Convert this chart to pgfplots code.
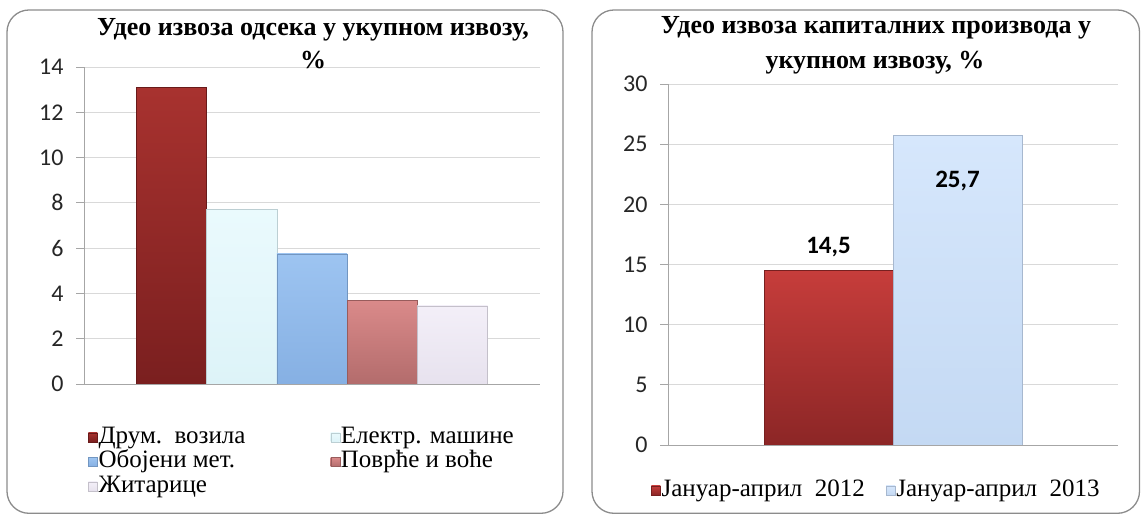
\documentclass[border=0pt]{standalone}
\usepackage{fontspec}
\setmainfont{Liberation Serif}
\newfontfamily\carlito{Carlito}
\usepackage{pgfplots}
\pgfplotsset{compat=1.18}

\definecolor{boxgray}{HTML}{8C8C8C}
\definecolor{gridgray}{HTML}{D9D9D9}
\definecolor{axisgray}{HTML}{A6A6A6}

% bar colours (top / bottom of the gradient)
\definecolor{redT}{HTML}{A8322F}\definecolor{redB}{HTML}{7A1F1F}
\definecolor{cyaT}{HTML}{EAFAFD}\definecolor{cyaB}{HTML}{DDF3F8}
\definecolor{bluT}{HTML}{9DC4F1}\definecolor{bluB}{HTML}{86B0E3}
\definecolor{pnkT}{HTML}{DA8A8A}\definecolor{pnkB}{HTML}{B36C6C}
\definecolor{lavT}{HTML}{F3EFF8}\definecolor{lavB}{HTML}{E7E2EE}
\definecolor{r2T}{HTML}{C63D3B}\definecolor{r2B}{HTML}{8C2626}
\definecolor{b2T}{HTML}{D6E7FC}\definecolor{b2B}{HTML}{C4D9F3}

\pgfplotsset{
  panel/.style={
    scale only axis,
    axis x line*=bottom,
    axis y line*=left,
    axis line style={draw=axisgray, line width=0.9pt},
    ymajorgrids,
    grid style={draw=gridgray, line width=0.9pt},
    xtick=\empty,
    tick align=outside,
    major tick length=8pt,
    ytick style={draw=axisgray, line width=0.9pt},
    /pgf/number format/assume math mode=true,
    yticklabel style={font=\carlito\fontsize{24}{24}\selectfont, text=black!85, xshift=-9pt},
    xmin=-1, xmax=1,
    ybar=0pt,
    legend cell align=left,
    legend style={draw=none, fill=none, inner sep=0pt,
      font=\fontsize{25}{25}\selectfont,
      nodes={inner sep=1pt, text height=17pt, text depth=5.5pt}},
  },
  bar/.style 2 args={draw=#2!85!black, line width=0.5pt,
    top color=#1, bottom color=#2,
    legend image code/.code={
      \draw[draw=#2!85!black, line width=0.4pt, top color=#1, bottom color=#2]
        (0pt,-4.5pt) rectangle (9pt,4.5pt);}},
}

\begin{document}
\begin{tikzpicture}[x=1pt,y=1pt]
\useasboundingbox (0,0) rectangle (1141,514);
\draw[boxgray, line width=1.3pt, rounded corners=22pt] (7,0.7) rectangle (563,504);
\draw[boxgray, line width=1.3pt, rounded corners=22pt] (592,0.7) rectangle (1139.5,504);

% left panel
\begin{axis}[panel,
  at={(84pt,130pt)}, anchor=south west,
  width=456pt, height=317pt,
  ymin=0, ymax=14, ytick={0,2,...,14},
  bar width=70.2pt,
  legend columns=2,
  legend style={at={(0,0)}, anchor=north west, xshift=4pt, yshift=-41pt,
    /tikz/every even column/.append style={column sep=84pt}},
]
\addplot[bar={redT}{redB}] coordinates {(0,13.1)};
\addplot[bar={cyaT}{cyaB}] coordinates {(0,7.7)};
\addplot[bar={bluT}{bluB}] coordinates {(0,5.75)};
\addplot[bar={pnkT}{pnkB}] coordinates {(0,3.7)};
\addplot[bar={lavT}{lavB}] coordinates {(0,3.45)};
\legend{Друм.\ \ возила, Електр. машине, Обојени мет., Поврће и воће, Житарице}
\end{axis}
\node[font=\bfseries\fontsize{26}{26}\selectfont] at (313,484) {Удео извоза одсека у укупном извозу,};
\node[font=\bfseries\fontsize{26}{26}\selectfont] at (313,454) {\%};

% right panel
\begin{axis}[panel,
  at={(668pt,69pt)}, anchor=south west,
  width=450pt, height=361pt,
  ymin=0, ymax=30, ytick={0,5,...,30},
  bar width=129pt,
  nodes near coords={\pgfmathprintnumber[fixed,precision=1,use comma]{\pgfplotspointmeta}},
  every node near coord/.append style={font=\carlito\bfseries\fontsize{25}{25}\selectfont, anchor=center},
  legend columns=2,
  legend style={at={(0,0)}, anchor=north west, xshift=-17pt, yshift=-33pt,
    /tikz/every even column/.append style={column sep=20pt}},
]
\addplot[bar={r2T}{r2B}, every node near coord/.append style={yshift=23pt}] coordinates {(0,14.5)};
\addplot[bar={b2T}{b2B}, every node near coord/.append style={yshift=-45pt}] coordinates {(0,25.7)};
\legend{Јануар-април\ \ 2012, Јануар-април\ \ 2013}
\end{axis}
\node[font=\bfseries\fontsize{26}{26}\selectfont] at (876,486) {Удео извоза капиталних производа у};
\node[font=\bfseries\fontsize{26}{26}\selectfont] at (875,451) {укупном извозу, \%};
\end{tikzpicture}
\end{document}
